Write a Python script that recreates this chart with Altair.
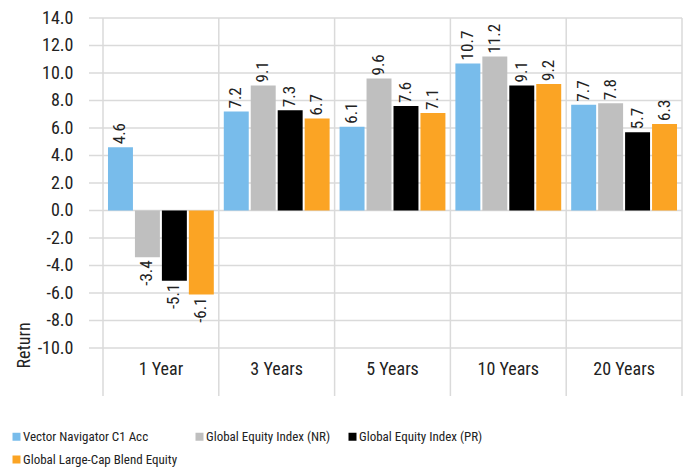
import altair as alt
import pandas as pd

categories = ["1 Year", "3 Years", "5 Years", "10 Years", "20 Years"]
series = [
    "Vector Navigator C1 Acc",
    "Global Equity Index (NR)",
    "Global Equity Index (PR)",
    "Global Large-Cap Blend Equity",
]
colors = ["#78BCEB", "#BFBFBF", "#000000", "#FBA424"]
fund_vals = [4.6, 7.2, 6.1, 10.7, 7.7]
nr_vals = [-3.4, 9.1, 9.6, 11.2, 7.8]
pr_vals = [-5.1, 7.3, 7.6, 9.1, 5.7]
cat_vals = [-6.1, 6.7, 7.1, 9.2, 6.3]
y_ticks = [-10, -8, -6, -4, -2, 0, 2, 4, 6, 8, 10, 12, 14]

all_vals = [fund_vals, nr_vals, pr_vals, cat_vals]
rows = []
for s, vals in zip(series, all_vals):
    for c, v in zip(categories, vals):
        rows.append({"period": c, "series": s, "value": v})
df = pd.DataFrame(rows)

FONT = "Liberation Sans Narrow, Arial Narrow, Roboto Condensed, Roboto, sans-serif"
W, H = 579, 330
GRID = "#DADADA"
TXT = "#222222"
MINUS_FIX = "replace(format(datum.value, '.1f'), '\u2212', '-')"

y_scale = alt.Scale(domain=[-10, 14], nice=False, zero=False)
y_axis = alt.Axis(
    values=y_ticks, grid=False, domain=False, ticks=False,
    labelExpr=MINUS_FIX, labelPadding=30, labelFontSize=18, labelFont=FONT,
    labelColor=TXT, title="Return", titleFont=FONT, titleFontSize=18,
    titleFontWeight="normal", titleColor=TXT, titleAngle=270, titleAlign="left",
    titleBaseline="alphabetic", titleX=-74, titleY=350,
)
x_scale = alt.Scale(paddingInner=0, paddingOuter=0)
x_axis = alt.Axis(
    title=None, labelAngle=0, domain=False, ticks=False, labelPadding=12,
    labelFontSize=18, labelFont=FONT, labelColor=TXT,
)
x_enc = alt.X("period:N", sort=categories, scale=x_scale, axis=x_axis)
xo_enc = alt.XOffset("series:N", sort=series,
                     scale=alt.Scale(paddingInner=0.074, paddingOuter=0.185))

grid = alt.Chart(pd.DataFrame({"value": y_ticks})).mark_rule(
    color=GRID, strokeWidth=1.5
).encode(
    y=alt.Y("value:Q", scale=y_scale, axis=y_axis),
    x=alt.value(-14), x2=alt.value(W),
)

vlines = alt.Chart(pd.DataFrame({"period": categories})).mark_rule(
    color=GRID, strokeWidth=1.5
).encode(
    x=alt.X("period:N", sort=categories, bandPosition=0, scale=x_scale, axis=x_axis),
    y=alt.value(0), y2=alt.value(H + 48),
)

edge = alt.Chart(pd.DataFrame({"period": [categories[-1]]})).mark_rule(
    color=GRID, strokeWidth=1.5
).encode(
    x=alt.value(W), y=alt.value(0), y2=alt.value(H + 48),
)

bars = alt.Chart(df).mark_bar().encode(
    x=x_enc,
    xOffset=xo_enc,
    y=alt.Y("value:Q", scale=y_scale, axis=y_axis),
    color=alt.Color(
        "series:N", sort=series,
        scale=alt.Scale(domain=series, range=colors),
        legend=alt.Legend(
            title=None, orient="none", legendX=-93, legendY=412, columns=3,
            direction="horizontal",
            symbolType="square", symbolSize=64, symbolStrokeWidth=0,
            labelFontSize=13, labelFont=FONT, labelColor=TXT, labelOffset=0,
            columnPadding=15, rowPadding=9, labelLimit=400,
        ),
    ),
)

base_text = alt.Chart(df).transform_calculate(label=MINUS_FIX)

pos_text = base_text.transform_filter("datum.value >= 0").mark_text(
    angle=270, align="left", baseline="middle", dx=3, fontSize=17, font=FONT, color=TXT
).encode(
    x=x_enc, xOffset=xo_enc,
    y=alt.Y("value:Q", scale=y_scale, axis=y_axis),
    text="label:N",
)

neg_text = base_text.transform_filter("datum.value < 0").mark_text(
    angle=270, align="right", baseline="middle", dx=-3, fontSize=17, font=FONT, color=TXT
).encode(
    x=x_enc, xOffset=xo_enc,
    y=alt.Y("value:Q", scale=y_scale, axis=y_axis),
    text="label:N",
)

chart = alt.layer(grid, vlines, edge, bars, pos_text, neg_text).properties(
    width=W, height=H,
    padding={"left": 95, "top": 10, "right": 2, "bottom": 120},
    autosize=alt.AutoSizeParams(type="none"),
).configure_view(stroke=None)

chart.save("out.html", embed_options={"renderer": "svg", "actions": False})
